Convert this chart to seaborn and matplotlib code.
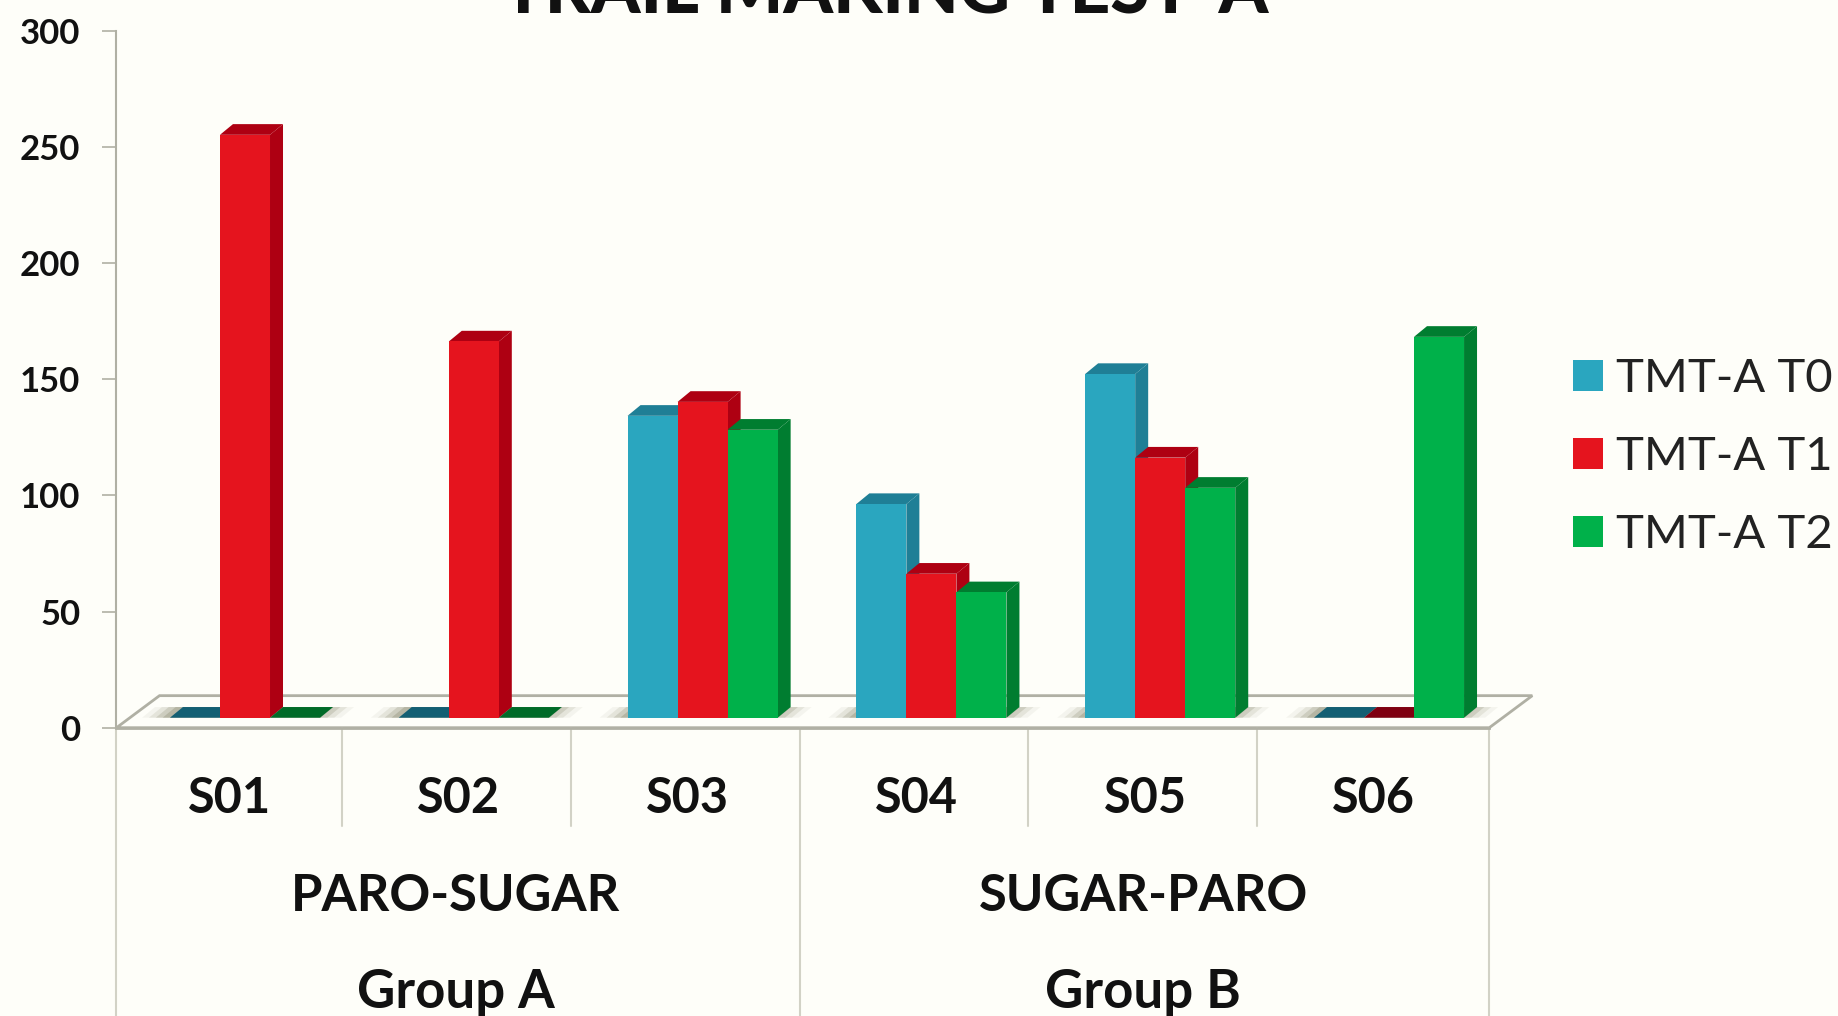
import pandas as pd
import matplotlib.pyplot as plt
from matplotlib.patches import Polygon, Patch
from matplotlib.lines import Line2D
import seaborn as sns

subjects = ['S01', 'S02', 'S03', 'S04', 'S05', 'S06']
tmt_t0 = [0, 0, 130, 92, 148, 0]
tmt_t1 = [251, 162, 136, 62, 112, 0]
tmt_t2 = [0, 0, 124, 54, 99, 164]
series_names = ['TMT-A T0', 'TMT-A T1', 'TMT-A T2']
groups = ['PARO-SUGAR', 'SUGAR-PARO']
group_names = ['Group A', 'Group B']
y_ticks = [0, 50, 100, 150, 200, 250, 300]

front = ['#2AA6BF', '#E5141E', '#00B14A']
side = ['#1F7F96', '#AE0012', '#007D30']
top = ['#135F73', '#7F0010', '#006B28']

BG = '#FEFEF9'
AXIS = '#B0B0A4'
LIGHT = '#D2D2C6'
FONT = 'Lato'

df = pd.DataFrame({'subject': subjects, series_names[0]: tmt_t0,
                   series_names[1]: tmt_t1, series_names[2]: tmt_t2})
df = df.melt(id_vars='subject', var_name='series', value_name='value')

sns.set_style('white')
plt.rcParams['font.family'] = [FONT, 'DejaVu Sans']

fig = plt.figure(figsize=(18.38, 10.16), dpi=100, facecolor=BG)
W, H = 1838, 1016
ax = fig.add_axes([116.5 / W, 1 - 727.7 / H, 1372.8 / W, 696.7 / H], facecolor='none')

# 3d look: bars stand a bit in front of the floor edge
lift = 4.3
dx, dy = 0.0568, 4.6
sns.barplot(data=df, x='subject', y='value', hue='series', palette=front,
            saturation=1, width=0.656, gap=0, errorbar=None, bottom=lift,
            linewidth=0, legend=False, ax=ax)

x0, x1 = -0.5616, 5.4384
ax.set_xlim(x0, x1)
ax.set_ylim(0, 300)

# floor
floor_dx, floor_dy = 0.188, 13.8
floor = Polygon([(x0, 0), (x1, 0), (x1 + floor_dx, floor_dy), (x0 + floor_dx, floor_dy)],
                closed=True, facecolor=BG, edgecolor=AXIS, linewidth=2,
                clip_on=False, zorder=1)
ax.add_patch(floor)

# soft shadow on the floor
for i in range(len(subjects)):
    for grow, alpha in [(0.0, 0.35), (0.03, 0.25), (0.06, 0.15), (0.09, 0.08)]:
        a = i - 0.36 - grow
        b = i + 0.33 + grow
        ax.add_patch(Polygon([(a, lift), (b, lift), (b + dx, lift + dy), (a + dx, lift + dy)],
                             closed=True, facecolor='#8A8A70', alpha=alpha,
                             linewidth=0, zorder=1.5, clip_on=False))

# side and top faces, taken from the bars seaborn drew
for k, cont in enumerate(ax.containers):
    for bar in cont:
        bar.set_zorder(3.6 + k)
        l, r = bar.get_x(), bar.get_x() + bar.get_width()
        b, t = bar.get_y(), bar.get_y() + bar.get_height()
        ax.add_patch(Polygon([(l, t), (r, t), (r + dx, t + dy), (l + dx, t + dy)],
                             closed=True, facecolor=top[k] if t == b else side[k],
                             linewidth=0, zorder=3.2 + k))
        if t > b:
            ax.add_patch(Polygon([(r, b), (r, t), (r + dx, t + dy), (r + dx, b + dy)],
                                 closed=True, facecolor=side[k], linewidth=0, zorder=3.3 + k))

# axes
sns.despine(ax=ax, right=True, top=True)
for name in ['left', 'bottom']:
    ax.spines[name].set_color(AXIS)
    ax.spines[name].set_linewidth(1.5)
ax.spines['bottom'].set_linewidth(2)
ax.set_yticks(y_ticks)
ax.set_yticklabels([str(v) for v in y_ticks], fontsize=25, fontweight='bold', color='#111111')
ax.tick_params(axis='y', left=True, length=10, width=1.2, color=AXIS, pad=16)
ax.set_xticks([i - 0.066 for i in range(len(subjects))])
ax.set_xticklabels(subjects, fontsize=35, fontweight='bold', color='#111111')
ax.tick_params(axis='x', bottom=False, length=0, pad=35)
ax.set_xlabel('')
ax.set_ylabel('')

# multi level category lines below the axis
trans = ax.get_xaxis_transform()
for i in range(7):
    long_line = i in (0, 3, 6)
    xp = x0 + i - (0.014 if 0 < i < 6 else 0)
    ax.add_line(Line2D([xp, xp], [0, -1.0 if long_line else -0.141], transform=trans,
                       color=LIGHT, linewidth=1.5, clip_on=False))

for g, name, cx in zip(groups, group_names, [0.922, 3.925]):
    ax.text(cx, -0.2416, g, transform=trans, ha='center', va='center',
            fontsize=36.5, fontweight='bold', color='#111111')
    ax.text(cx, -0.380, name, transform=trans, ha='center', va='center',
            fontsize=38, fontweight='bold', color='#111111')

fig.text(885 / W, 1 - 13 / H, 'TRAIL MAKING TEST-A', ha='center', va='baseline',
         fontsize=51, fontweight=900, color='#111111')

handles = [Patch(facecolor=c, edgecolor='none') for c in front]
ax.legend(handles, series_names, loc='upper left', bbox_to_anchor=(1573 / W, 1 - 358 / H),
          bbox_transform=fig.transFigure, frameon=False, fontsize=34,
          handlelength=0.64, handleheight=0.64, handletextpad=0.28, labelspacing=0.76,
          borderpad=0, borderaxespad=0, labelcolor='#222222')

fig.savefig('out.png', dpi=100, facecolor=BG)
